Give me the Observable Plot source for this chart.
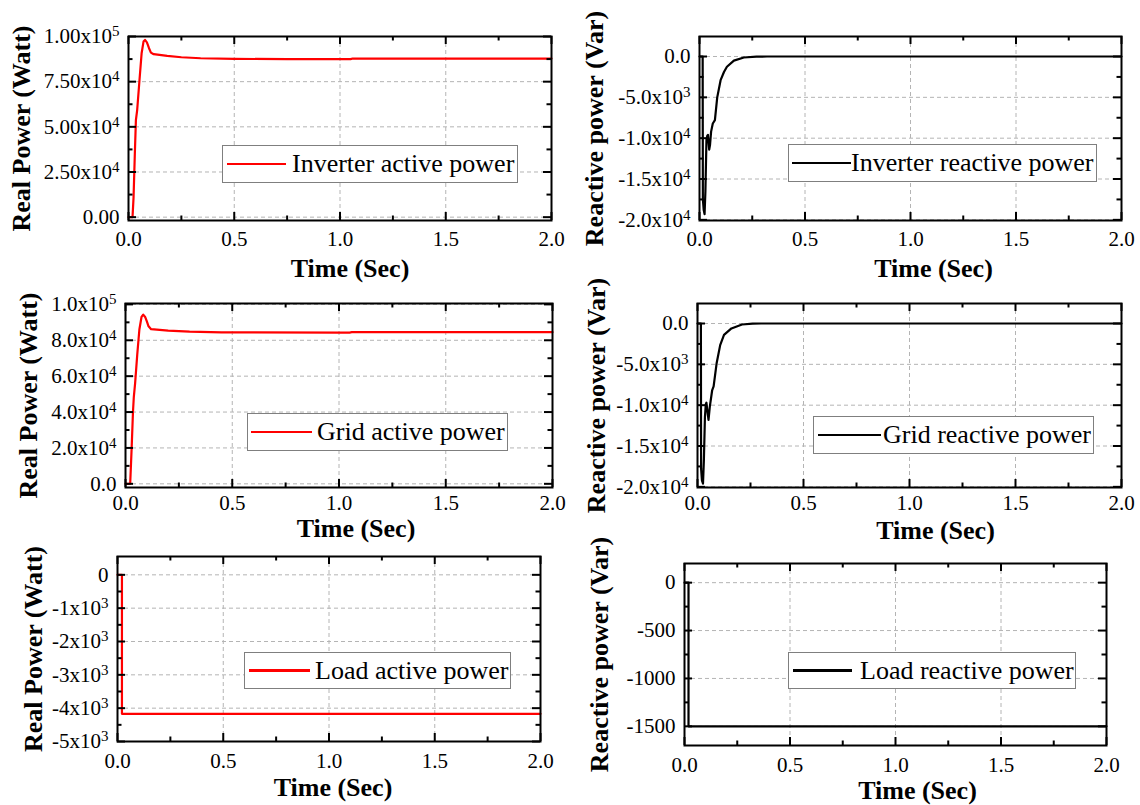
<!DOCTYPE html>
<html><head><meta charset="utf-8">
<script src="https://cdn.jsdelivr.net/npm/d3@7"></script>
<script src="https://cdn.jsdelivr.net/npm/@observablehq/plot@0.6"></script>
<style>
html,body{margin:0;padding:0;background:#fff;}
#page{position:relative;width:1140px;height:805px;overflow:hidden;font-family:'Liberation Serif','Times New Roman',serif;}
.panel{position:absolute;}
.panel svg text{font-family:'Liberation Serif','Times New Roman',serif;}
.legend{position:absolute;background:#fff;border:1px solid #7f7f7f;box-sizing:border-box;display:flex;align-items:center;font-size:26px;white-space:nowrap;color:#000;}
.legend .sw{display:inline-block;height:2.5px;flex:none;}
</style></head>
<body><div id="page"></div>
<script>
// ---------- data ----------
const timeTicks = [0, 0.5, 1, 1.5, 2];
const timeMinor = [0.25, 0.75, 1.25, 1.75];
const timeTickLabels = ["0.0", "0.5", "1.0", "1.5", "2.0"];

// Inverter active power
const invActiveT = [0, 0.019, 0.024, 0.030, 0.035, 0.041, 0.052, 0.062, 0.071, 0.078, 0.087, 0.097, 0.106, 0.119, 0.183, 0.25, 0.341, 0.5, 0.75, 1.0, 1.05, 1.06, 1.5, 2.0];
const invActiveP = [0, 0, 11100, 35200, 53700, 59300, 75900, 90700, 97200, 98100, 96700, 93500, 91100, 90200, 89260, 88500, 87960, 87600, 87500, 87500, 87500, 87800, 87800, 87800];
const invActiveTicks = [0, 25000, 50000, 75000, 100000];
const invActiveTickLabels = ["0.00", "2.50x10^4", "5.00x10^4", "7.50x10^4", "1.00x10^5"];
const invActiveMinor = [12500, 37500, 62500, 87500];

// Inverter reactive power
const invReactT = [0, 0.015, 0.016, 0.02, 0.024, 0.028, 0.033, 0.037, 0.04, 0.043, 0.046, 0.05, 0.055, 0.063, 0.073, 0.084, 0.1, 0.116, 0.13, 0.163, 0.21, 0.27, 0.32, 2.0];
const invReactQ = [0, 0, -17500, -18800, -19300, -16500, -10200, -9700, -9600, -10500, -11400, -10800, -9200, -8200, -7800, -5000, -2900, -1900, -1250, -500, -120, -20, 0, 0];
const reactTicks = [-20000, -15000, -10000, -5000, 0];
const reactTickLabels = ["-2.0x10^4", "-1.5x10^4", "-1.0x10^4", "-5.0x10^3", "0.0"];
const reactMinor = [-17500, -12500, -7500, -2500];

// Grid active power
const gridActiveT = [0, 0.022, 0.029, 0.035, 0.039, 0.045, 0.055, 0.065, 0.075, 0.083, 0.092, 0.1, 0.108, 0.12, 0.2, 0.3, 0.45, 1.0, 1.05, 1.06, 2.0];
const gridActiveP = [0, 0, 20600, 40000, 48500, 56000, 72000, 86000, 93000, 94300, 93000, 90500, 87800, 86200, 85400, 84800, 84400, 84300, 84300, 84500, 84500];
const gridActiveTicks = [0, 20000, 40000, 60000, 80000, 100000];
const gridActiveTickLabels = ["0.0", "2.0x10^4", "4.0x10^4", "6.0x10^4", "8.0x10^4", "1.0x10^5"];
const gridActiveMinor = [10000, 30000, 50000, 70000, 90000];

// Grid reactive power
const gridReactT = [0, 0.016, 0.017, 0.021, 0.026, 0.03, 0.035, 0.039, 0.042, 0.047, 0.052, 0.058, 0.069, 0.076, 0.09, 0.107, 0.125, 0.16, 0.21, 0.26, 0.3, 2.0];
const gridReactQ = [0, 0, -17800, -19200, -19600, -16800, -11500, -9900, -9700, -10800, -11800, -10200, -8200, -7700, -4900, -2650, -1400, -600, -120, -20, 0, 0];

// Load active power
const loadActiveT = [0, 0.021, 0.021, 2.0];
const loadActiveP = [0, 0, -4170, -4170];
const loadActiveTicks = [-5000, -4000, -3000, -2000, -1000, 0];
const loadActiveTickLabels = ["-5x10^3", "-4x10^3", "-3x10^3", "-2x10^3", "-1x10^3", "0"];
const loadActiveMinor = [-4500, -3500, -2500, -1500, -500];

// Load reactive power
const loadReactT = [0, 0.019, 0.019, 2.0];
const loadReactQ = [0, 0, -1500, -1500];
const loadReactTicks = [-1500, -1000, -500, 0];
const loadReactTickLabels = ["-1500", "-1000", "-500", "0"];
const loadReactMinor = [-1250, -750, -250];

// ---------- layout ----------
const FONT = "'Liberation Serif','Times New Roman',serif";
const panels = [
  {t: invActiveT, v: invActiveP, color: "#ff0000", yTicks: invActiveTicks, yLabels: invActiveTickLabels, yMinor: invActiveMinor,
   yDomain: [-1850, 100000], yTitle: "Real Power (Watt)", legend: "Inverter active power",
   left: 0, top: 0, width: 570, height: 280, ml: 128, mr: 19, mt: 36, mb: 60,
   yTitleX: 21, xTitleDx: 10, xTitleDy: 48, xPad: 11,
   lg: {x: 222, y: 145, w: 296, h: 38, pad: 4, sw: 59, gap: 6}},
  {t: invReactT, v: invReactQ, color: "#000000", yTicks: reactTicks, yLabels: reactTickLabels, yMinor: reactMinor,
   yDomain: [-20080, 2450], yTitle: "Reactive power (Var)", legend: "Inverter reactive power",
   left: 570, top: 0, width: 570, height: 280, ml: 129, mr: 19, mt: 36, mb: 60,
   yTitleX: 24, xTitleDx: 23, xTitleDy: 48, xPad: 11,
   lg: {x: 788, y: 144, w: 309, h: 38, pad: 3, sw: 59, gap: 0}},
  {t: gridActiveT, v: gridActiveP, color: "#ff0000", yTicks: gridActiveTicks, yLabels: gridActiveTickLabels, yMinor: gridActiveMinor,
   yDomain: [-2050, 100500], yTitle: "Real Power (Watt)", legend: "Grid active power",
   left: 0, top: 280, width: 570, height: 262, ml: 125, mr: 18, mt: 23, mb: 55,
   yTitleX: 28, xTitleDx: 17, xTitleDy: 41, xPad: 8,
   lg: {x: 247, y: 413, w: 261, h: 38, pad: 3, sw: 61, gap: 5}},
  {t: gridReactT, v: gridReactQ, color: "#000000", yTicks: reactTicks, yLabels: reactTickLabels, yMinor: reactMinor,
   yDomain: [-20080, 2450], yTitle: "Reactive power (Var)", legend: "Grid reactive power",
   left: 570, top: 280, width: 570, height: 262, ml: 127, mr: 19, mt: 23, mb: 55,
   yTitleX: 26, xTitleDx: 26, xTitleDy: 43, xPad: 8,
   lg: {x: 813, y: 416, w: 281, h: 38, pad: 4, sw: 63, gap: 2}},
  {t: loadActiveT, v: loadActiveP, color: "#ff0000", yTicks: loadActiveTicks, yLabels: loadActiveTickLabels, yMinor: loadActiveMinor,
   yDomain: [-5000, 550], yTitle: "Real Power (Watt)", legend: "Load active power",
   left: 0, top: 542, width: 570, height: 263, ml: 117, mr: 30, mt: 14, mb: 64,
   yTitleX: 33, xTitleDx: 4, xTitleDy: 46, xPad: 12,
   lg: {x: 244, y: 652, w: 267, h: 37, pad: 4, sw: 61, gap: 5}},
  {t: loadReactT, v: loadReactQ, color: "#000000", yTicks: loadReactTicks, yLabels: loadReactTickLabels, yMinor: loadReactMinor,
   yDomain: [-1700, 200], yTitle: "Reactive power (Var)", legend: "Load reactive power",
   left: 570, top: 542, width: 570, height: 263, ml: 114, mr: 34, mt: 21, mb: 60,
   yTitleX: 29, xTitleDx: 22, xTitleDy: 45, xPad: 12,
   lg: {x: 788, y: 652, w: 288, h: 37, pad: 4, sw: 59, gap: 8}}
];

const page = document.getElementById("page");
const SVGNS = "http://www.w3.org/2000/svg";

function makePanel(c) {
  const data = c.t.map((t, i) => ({t, v: c.v[i]}));
  const fw = c.width - c.ml - c.mr, fh = c.height - c.mt - c.mb;
  const yFmt = new Map(c.yTicks.map((d, i) => [d, c.yLabels[i]]));
  const xFmt = new Map(timeTicks.map((d, i) => [d, timeTickLabels[i]]));
  const MAJ = 8, MIN = 4.5;
  const tk = {stroke: "#000", strokeWidth: 2};
  const grid = {stroke: "#b4b4b4", strokeWidth: 1, strokeDasharray: "4,3"};
  const plot = Plot.plot({
    width: c.width, height: c.height,
    marginLeft: c.ml, marginRight: c.mr, marginTop: c.mt, marginBottom: c.mb,
    style: {fontFamily: FONT, background: "transparent", overflow: "visible"},
    x: {domain: [0, 2]},
    y: {domain: c.yDomain},
    marks: [
      Plot.ruleX(timeTicks, grid),
      Plot.ruleY(c.yTicks, grid),
      Plot.line(data, {x: "t", y: "v", stroke: c.color, strokeWidth: 2.2}),
      Plot.ruleX(timeTicks, {...tk, insetTop: fh - MAJ}),
      Plot.ruleX(timeTicks, {...tk, insetBottom: fh - MAJ}),
      Plot.ruleX(timeMinor, {...tk, insetTop: fh - MIN}),
      Plot.ruleX(timeMinor, {...tk, insetBottom: fh - MIN}),
      Plot.ruleY(c.yTicks, {...tk, insetRight: fw - MAJ}),
      Plot.ruleY(c.yTicks, {...tk, insetLeft: fw - MAJ}),
      Plot.ruleY(c.yMinor, {...tk, insetRight: fw - MIN}),
      Plot.ruleY(c.yMinor, {...tk, insetLeft: fw - MIN}),
      Plot.frame({stroke: "#000", strokeWidth: 2}),
      Plot.axisX(timeTicks, {tickSize: 0, tickPadding: c.xPad, tickFormat: d => xFmt.get(d), fontSize: 21, fontFamily: FONT, fontVariant: "normal", label: null}),
      Plot.axisY(c.yTicks, {tickSize: 0, tickPadding: 9, tickFormat: d => yFmt.get(d), fontSize: 21, fontFamily: FONT, fontVariant: "normal", label: null}),
      Plot.text([c.yTitle], {text: d => d, frameAnchor: "left", dx: c.yTitleX - c.ml, rotate: -90, fontFamily: FONT,
        fontSize: 26, fontWeight: "bold", textAnchor: "middle", lineAnchor: "middle"}),
      Plot.text(["Time (Sec)"], {text: d => d, frameAnchor: "bottom", dx: c.xTitleDx, dy: c.xTitleDy, fontFamily: FONT,
        fontSize: 26, fontWeight: "bold", textAnchor: "middle", lineAnchor: "middle"})
    ]
  });
  // superscripts
  plot.querySelectorAll("text").forEach(t => {
    const s = t.textContent;
    const k = s.indexOf("^");
    if (k >= 0 && t.children.length === 0) {
      t.textContent = s.slice(0, k);
      const sp = document.createElementNS(SVGNS, "tspan");
      sp.setAttribute("dy", "-7");
      sp.setAttribute("font-size", "15");
      sp.textContent = s.slice(k + 1);
      t.appendChild(sp);
    }
  });
  const wrap = document.createElement("div");
  wrap.className = "panel";
  wrap.style.left = c.left + "px";
  wrap.style.top = c.top + "px";
  wrap.appendChild(plot);
  page.appendChild(wrap);

  const lg = document.createElement("div");
  lg.className = "legend";
  lg.style.left = c.lg.x + "px";
  lg.style.top = c.lg.y + "px";
  lg.style.width = c.lg.w + "px";
  lg.style.height = c.lg.h + "px";
  const sw = document.createElement("span");
  sw.className = "sw";
  sw.style.width = c.lg.sw + "px";
  sw.style.marginLeft = c.lg.pad + "px";
  sw.style.marginRight = c.lg.gap + "px";
  sw.style.background = c.color;
  const tx = document.createElement("span");
  tx.textContent = c.legend;
  lg.appendChild(sw);
  lg.appendChild(tx);
  page.appendChild(lg);
}

panels.forEach(makePanel);
</script></body></html>
